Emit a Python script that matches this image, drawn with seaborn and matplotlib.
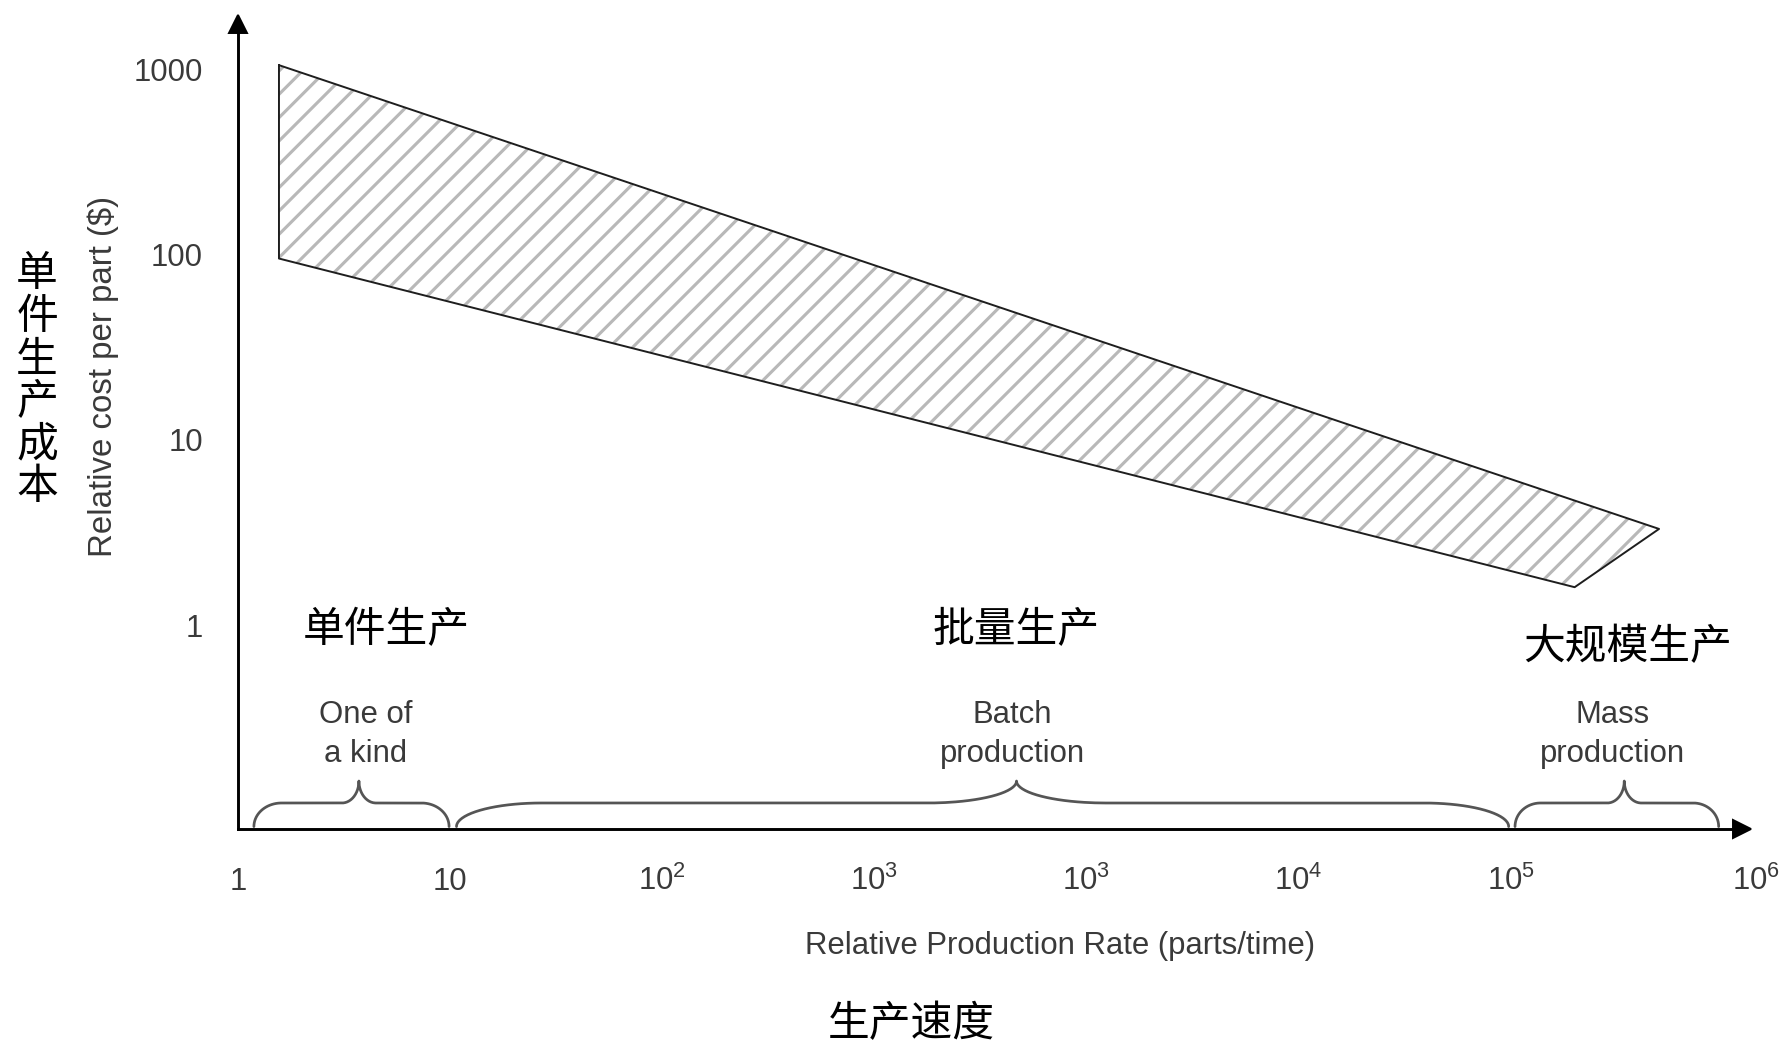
import numpy as np
import matplotlib
matplotlib.use("Agg")
import matplotlib.pyplot as plt
import matplotlib.transforms as mtransforms
from matplotlib import font_manager
import seaborn as sns

# ---------------- data ----------------
upper_rate = [1.56, 5.0e6]      # upper edge of cost band
upper_cost = [1050.0, 3.3]
lower_rate = [1.56, 2.0e6]      # lower edge of cost band
lower_cost = [95.0, 1.6]

x_tick_values = [1, 1e1, 1e2, 1e3, 1e4, 1e5, 1e6, 1e7]
x_tick_labels = ["1", "10", r"$\mathrm{10}^{\mathrm{2}}$", r"$\mathrm{10}^{\mathrm{3}}$",
                 r"$\mathrm{10}^{\mathrm{3}}$", r"$\mathrm{10}^{\mathrm{4}}$",
                 r"$\mathrm{10}^{\mathrm{5}}$", r"$\mathrm{10}^{\mathrm{6}}$"]
y_tick_values = [1, 10, 100, 1000]
y_tick_labels = ["1", "10", "100", "1000"]

region_en = ["One of\na kind", "Batch\nproduction", "Mass\nproduction"]
region_zh = ["单件生产", "批量生产", "大规模生产"]
region_start = [10 ** 0.075, 10 ** 1.03, 10 ** 6.02]
region_end = [10 ** 0.995, 10 ** 5.99, 10 ** 6.98]
region_mid = [10 ** 0.57, 10 ** 3.67, 10 ** 6.535]

x_label_en = "Relative Production Rate (parts/time)"
x_label_zh = "生产速度"
y_label_en = "Relative cost per part ($)"
y_label_zh = "单件生产成本"

# ---------------- style ----------------
sns.set_theme(style="white")
names = {f.name for f in font_manager.fontManager.ttflist}
EN = "Liberation Sans" if "Liberation Sans" in names else "DejaVu Sans"
ZH = "Noto Sans CJK SC"
plt.rcParams["font.family"] = [EN, "DejaVu Sans"]
plt.rcParams["mathtext.fontset"] = "custom"
plt.rcParams["mathtext.rm"] = EN
plt.rcParams["mathtext.it"] = EN
plt.rcParams["hatch.linewidth"] = 1.6
TXT = "#3a3a3a"

DPI = 140
fig = plt.figure(figsize=(1792 / DPI, 1047 / DPI), dpi=DPI)
fig.patch.set_facecolor("white")
ax = fig.add_axes([238 / 1792, 218 / 1047, 1504 / 1792, 805 / 1047])
ax.set_facecolor("white")

ax.set_xscale("log")
ax.set_yscale("log")
ax.set_xlim(1, 10 ** 7.09)
ax.set_ylim(0.0793, 1751)

# hatched band
poly_x = upper_rate + lower_rate[::-1]
poly_y = upper_cost + lower_cost[::-1]
ax.fill(poly_x, poly_y, facecolor="none", edgecolor="#b8b8b8", hatch="//", linewidth=0)
sns.lineplot(x=poly_x + poly_x[:1], y=poly_y + poly_y[:1], sort=False, estimator=None,
             color="#1e1e1e", linewidth=1.0, ax=ax)

# axes & ticks
for s in ["top", "right"]:
    ax.spines[s].set_visible(False)
for s in ["left", "bottom"]:
    ax.spines[s].set_color("black")
    ax.spines[s].set_linewidth(1.5)
ax.set_xticks(x_tick_values, x_tick_labels)
ax.set_yticks(y_tick_values, y_tick_labels)
ax.minorticks_off()
ax.tick_params(axis="x", direction="inout", length=14.4, width=1.0, color="black",
               pad=24.2, labelsize=16, labelcolor=TXT)
ax.tick_params(axis="y", direction="inout", length=16.5, width=1.0, color="black",
               pad=9.8, labelsize=16, labelcolor=TXT)
for lbl in ax.get_xticklabels():
    lbl.set_va("baseline")
ax.xaxis.get_major_ticks()[0].tick1line.set_visible(False)
ax.grid(False)

# arrow heads
ax.plot([0], [1], marker="^", ms=9, color="black", transform=ax.transAxes, clip_on=False)
ax.plot([1], [0], marker=">", ms=9, color="black", transform=ax.transAxes, clip_on=False)

# braces
blend = mtransforms.blended_transform_factory(ax.transData, ax.transAxes)
end_w = [0.13, 0.40, 0.12]
mid_w = [0.08, 0.42, 0.08]
y0, y1, y2 = 0.003, 0.0323, 0.0596
t = np.linspace(0, np.pi / 2, 40)
for lo, hi, md, we, wm in zip(region_start, region_end, region_mid, end_w, mid_w):
    a, b, c = np.log10(lo), np.log10(hi), np.log10(md)
    x1 = a + we * (1 - np.cos(t)); v1 = y0 + (y1 - y0) * np.sin(t)
    x2 = c - wm + wm * np.sin(t); v2 = y1 + (y2 - y1) * (1 - np.cos(t))
    x3 = (2 * c - x2)[::-1]; v3 = v2[::-1]
    x4 = (b - we * (1 - np.cos(t)))[::-1]; v4 = v1[::-1]
    bx = 10 ** np.concatenate([x1, x2, x3, x4])
    by = np.concatenate([v1, v2, v3, v4])
    ax.plot(bx, by, color="#555555", lw=1.4, transform=blend, clip_on=False)

# region labels
en_x = [10 ** 0.6, 10 ** 3.65, 10 ** 6.48]
zh_x = [10 ** 0.7, 10 ** 3.67, 10 ** 6.55]
zh_y = [0.246, 0.246, 0.225]
for ex, zx, zy, en, zh in zip(en_x, zh_x, zh_y, region_en, region_zh):
    ax.text(ex, 0.1175, en, transform=blend, ha="center", va="center", ma="center",
            fontsize=16, color=TXT, linespacing=1.36)
    ax.text(zx, zy, zh, transform=blend, ha="center", va="center", fontsize=21.5,
            color="black", family=[ZH, "DejaVu Sans"])

# axis labels
ax.set_xlabel(x_label_en, fontsize=16, color=TXT, va="center")
ax.xaxis.set_label_coords(0.5465, -0.1453)
ax.set_ylabel(y_label_en, fontsize=17, color=TXT, va="center")
ax.yaxis.set_label_coords(-0.0898, 0.562)
ax.text(0.4475, -0.2435, x_label_zh, transform=ax.transAxes, ha="center", va="center",
        fontsize=21.5, color="black", family=[ZH, "DejaVu Sans"])
ax.text(-0.1336, 0.556, "\n".join(y_label_zh), transform=ax.transAxes, ha="center",
        va="center", fontsize=21.5, color="black", family=[ZH, "DejaVu Sans"],
        linespacing=1.05)

# last tick label sits right of its tick
last = ax.get_xticklabels()[-1]
last.set_transform(last.get_transform() + mtransforms.ScaledTranslation(17 / 72, 0, fig.dpi_scale_trans))

fig.savefig("out.png", dpi=DPI, facecolor="white")
